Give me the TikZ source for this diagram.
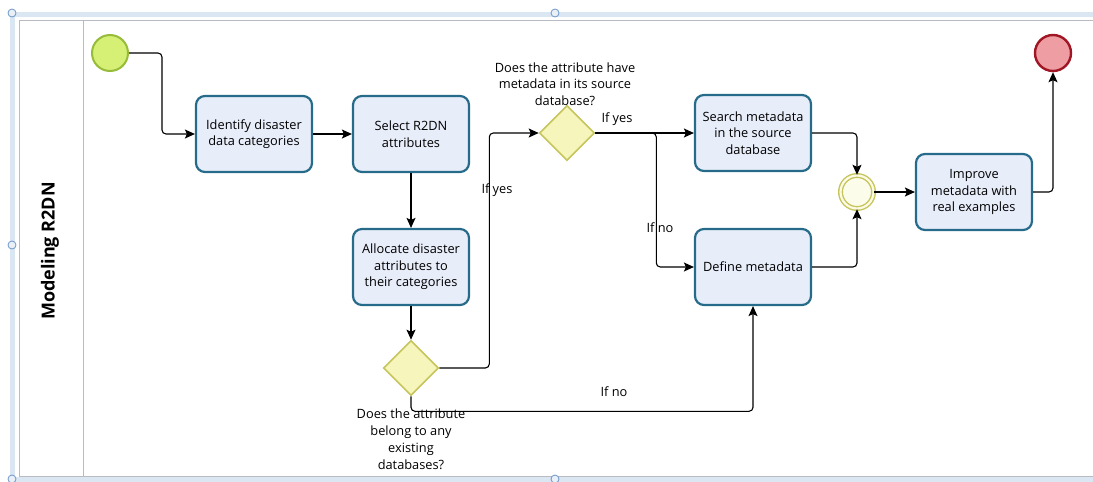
\documentclass[tikz,border=0pt]{standalone}
\usepackage{fontspec}
\setmainfont{Open Sans}
\usetikzlibrary{shapes.geometric,arrows.meta}

\definecolor{taskfill}{RGB}{232,237,250}
\definecolor{taskline}{RGB}{38,108,138}
\definecolor{gwfill}{RGB}{246,246,188}
\definecolor{gwline}{RGB}{198,196,92}
\definecolor{startfill}{RGB}{214,240,118}
\definecolor{startline}{RGB}{150,188,58}
\definecolor{endfill}{RGB}{238,158,162}
\definecolor{endline}{RGB}{160,22,36}
\definecolor{selband}{RGB}{218,230,242}
\definecolor{selline}{RGB}{110,150,200}
\definecolor{poolline}{RGB}{185,186,194}

\tikzset{
  task/.style={draw=taskline, fill=taskfill, line width=2.2pt, rounded corners=9pt,
    minimum width=116pt, minimum height=76pt, align=center,
    font=\fontsize{12.8}{16.5}\selectfont},
  gateway/.style={diamond, draw=gwline, fill=gwfill, line width=1.6pt,
    minimum width=55pt, minimum height=55pt, inner sep=0pt},
  flow/.style={draw, line width=1.1pt, rounded corners=4pt,
    -{Stealth[length=10pt,width=9pt,inset=2pt]}},
  guard/.style={font=\fontsize{12.8}{14}\selectfont},
  question/.style={align=center, font=\fontsize{12.8}{16.7}\selectfont, inner sep=0pt},
  handle/.style={draw=selline, fill=selband!60!white, line width=0.8pt}
}

\begin{document}
\begin{tikzpicture}[x=1pt, y=-1pt]
\useasboundingbox (0,0) rectangle (1093,482);

	% selection frame
	\fill[selband] (10,12) rectangle (1093,17);
	\fill[selband] (10,12) rectangle (15,482);
	\fill[selband] (10,477) rectangle (1093,482);

	% pool and lane
	\draw[poolline, line width=1pt] (1093,20) -- (19,20) -- (19,476) -- (1093,476);
	\draw[poolline, line width=1pt] (83,20) -- (83,476);
	\node[rotate=90, font=\fontsize{18}{18}\bfseries] (lane) at (50,251) {Modeling R2DN};

	% handles
	\foreach \hx/\hy in {12/13, 555/13, 12/245, 12/479, 555/479}
		\fill[handle] (\hx,\hy) circle[radius=4];

	% events
	\node[circle, draw=startline, fill=startfill, line width=2pt, minimum size=36pt, inner sep=0pt] (start) at (110,53) {};
	\node[circle, draw=endline, fill=endfill, line width=2.4pt, minimum size=36pt, inner sep=0pt] (end) at (1053,53) {};

	% tasks
	\node[task] (ident) at (254,134) {Identify disaster\\data categories};
	\node[task] (select) at (411,134) {Select R2DN\\attributes};
	\node[task] (alloc) at (411,267) {Allocate disaster\\attributes to\\their categories};
	\node[task] (search) at (753,133) {Search metadata\\in the source\\database};
	\node[task] (define) at (753,267) {Define metadata};
	\node[task] (improve) at (974,192) {Improve\\metadata with\\real examples};

	% gateways
	\node[gateway] (gwdb) at (411,368) {};
	\node[gateway] (gwmeta) at (567,133) {};
	\node[circle, draw=gwline, double=gwfill!40!white, double distance=2.2pt, line width=1.4pt,
		fill=gwfill!30!white, minimum size=33pt, inner sep=0pt] (merge) at (857,192) {};

	% questions
	\node[question, anchor=north] (qdb) at (411,409) {Does the attribute\\belong to any\\existing\\databases?};
	\node[question, anchor=south] (qmeta) at (565,106) {Does the attribute have\\metadata in its source\\database?};

	% flows
	\draw[flow] (start.east) -- ++(33,0) |- (ident.west);
	\draw[flow] (ident.east) -- (select.west);
	\draw[flow] (select.south) -- (alloc.north);
	\draw[flow] (alloc.south) -- (gwdb.north);
	\draw[flow] (gwdb.east) -- ++(50,0) |- (gwmeta.west);
	\draw[flow] (gwdb.south) -- ++(0,15) -| (define.south);
	\draw[flow] (gwmeta.east) -- (search.west);
	\draw[flow] (gwmeta.east) -- ++(61,0) |- (define.west);
	\draw[flow] (search.east) -| (merge.north);
	\draw[flow] (define.east) -| (merge.south);
	\draw[flow] (merge.east) -- (improve.west);
	\draw[flow] (improve.east) -| (end.south);

	% guards
	\node[guard] (yesdb) at (497,190) {If yes};
	\node[guard] (nodb) at (614,392) {If no};
	\node[guard] (yesmeta) at (617,119) {If yes};
	\node[guard] (nometa) at (660,228) {If no};

\end{tikzpicture}
\end{document}
